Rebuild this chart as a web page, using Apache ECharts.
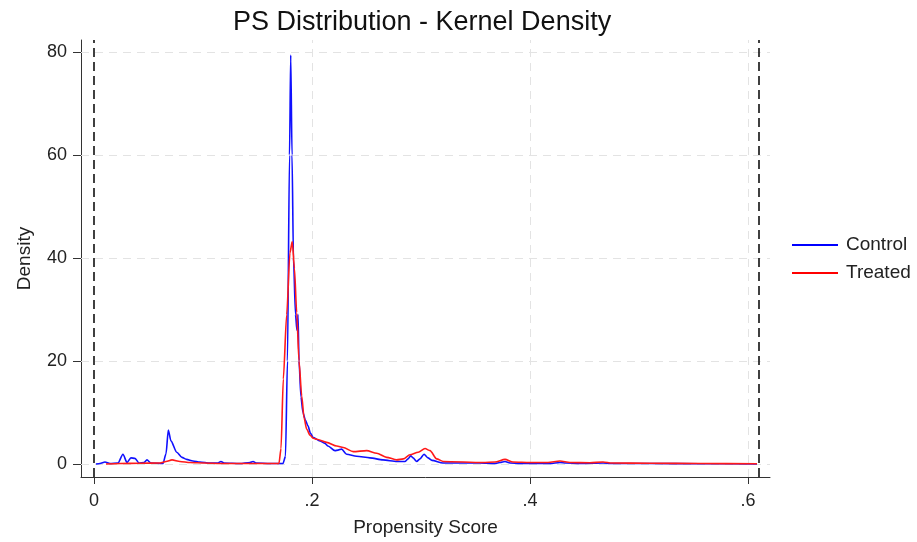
<!DOCTYPE html>
<html>
<head>
<meta charset="utf-8">
<script src="https://cdn.jsdelivr.net/npm/echarts@6/dist/echarts.min.js"></script>
<style>
html,body{margin:0;padding:0;background:#fff;}
#chart{width:917px;height:542px;}
</style>
</head>
<body>
<div id="chart"></div>
<script>
// ---- Data ----
const controlX = [0.0018,0.0055,0.0101,0.0147,0.0220,0.0266,0.0303,0.0339,0.0376,0.0413,0.0459,0.0486,0.0523,0.0633,0.0661,0.0682,0.0706,0.0759,0.0807,0.0850,0.0908,0.0972,0.1064,0.1138,0.1165,0.1193,0.1339,0.1431,0.1459,0.1486,0.1615,0.1734,0.1757,0.1775,0.1794,0.1805,0.1817,0.1830,0.1849,0.1862,0.1872,0.1881,0.1899,0.1917,0.1940,0.1963,0.1986,0.2009,0.2073,0.2119,0.2147,0.2211,0.2239,0.2272,0.2318,0.2410,0.2532,0.2651,0.2780,0.2853,0.2881,0.2906,0.2927,0.2961,0.2991,0.3028,0.3064,0.3101,0.3202,0.3358,0.3541,0.3679,0.3725,0.3771,0.3817,0.3908,0.4183,0.4275,0.4330,0.4459,0.4670,0.4734,0.5101,0.5560,0.6083];
const controlY = [0,0.1,0.4,0.1,0.2,1.9,0.3,1.2,1.1,0.2,0.3,0.8,0.2,0.1,2.0,6.6,4.5,2.3,1.3,0.9,0.6,0.4,0.2,0.2,0.5,0.2,0.1,0.3,0.5,0.2,0.1,0.1,1.5,20,60,79.4,60,40,29,26,29,20,13,10,8.5,7.4,6,5.2,4.5,4,3.5,2.6,2.7,2.9,1.9,1.5,1.2,0.8,0.5,0.5,1.0,1.6,1.2,0.5,1.0,1.9,1.2,0.7,0.2,0.2,0.2,0.1,0.3,0.5,0.2,0.1,0.1,0.3,0.2,0.1,0.2,0.1,0.1,0.05,0.02];
const treatedX = [0.0110,0.0239,0.0422,0.0606,0.0661,0.0716,0.0789,0.0881,0.1018,0.1156,0.1431,0.1615,0.1697,0.1716,0.1737,0.1768,0.1798,0.1819,0.1839,0.1860,0.1881,0.1906,0.1927,0.1951,0.1982,0.2012,0.2043,0.2135,0.2227,0.2287,0.2379,0.2502,0.2594,0.2685,0.2777,0.2838,0.2899,0.2975,0.3037,0.3083,0.3144,0.3205,0.3569,0.3679,0.3771,0.3844,0.4000,0.4165,0.4275,0.4367,0.4550,0.4670,0.4752,0.5101,0.5560,0.6083];
const treatedY = [0.0,0.1,0.15,0.2,0.5,0.8,0.5,0.3,0.2,0.1,0.1,0.1,0.1,3,16.5,29,41,43.2,38,29.4,20,13.2,9,6.8,5.6,5.0,4.8,4.2,3.5,3.2,2.4,2.6,2.1,1.3,0.8,1.0,1.8,2.3,3.0,2.6,1.0,0.5,0.3,0.4,0.9,0.4,0.3,0.3,0.6,0.3,0.25,0.4,0.2,0.15,0.1,0.05];

const xTickValues = [0, 0.2, 0.4, 0.6];
const xTickLabels = ['0', '.2', '.4', '.6'];
const yTickValues = [0, 20, 40, 60, 80];
const yTickLabels = ['0', '20', '40', '60', '80'];
const psBounds = [0.0009, 0.6094];   // dashed reference lines (min / max PS)

const seriesNames = ['Control', 'Treated'];
const titleText = 'PS Distribution - Kernel Density';
const xAxisName = 'Propensity Score';
const yAxisName = 'Density';

// ---- Chart ----
const FONT = '"Liberation Sans", Arial, Helvetica, sans-serif';
const chart = echarts.init(document.getElementById('chart'), null, {renderer: 'canvas'});

const zip = (xs, ys) => xs.map((x, i) => [x, ys[i]]);
const gridStyle = {color: '#e3e3e3', width: 1, type: [8, 6]};

const option = {
  animation: false,
  backgroundColor: '#ffffff',
  textStyle: {fontFamily: FONT},
  title: {
    text: titleText,
    left: 233, top: 9, padding: 0,
    textStyle: {fontFamily: FONT, fontSize: 27, fontWeight: 'normal', color: '#111'}
  },
  legend: {
    orient: 'vertical',
    left: 787, top: 230,
    data: seriesNames,
    icon: 'rect',
    itemWidth: 46, itemHeight: 2,
    itemGap: 8,
    textStyle: {fontFamily: FONT, fontSize: 19, color: '#222', lineHeight: 20, padding: [0, 0, 0, 3]}
  },
  grid: {left: 81, right: 147, top: 40, bottom: 64, containLabel: false},
  xAxis: {
    type: 'value',
    min: -0.0119, max: 0.6202,
    name: xAxisName,
    nameLocation: 'middle',
    nameGap: 41,
    nameTextStyle: {fontFamily: FONT, fontSize: 19, color: '#222'},
    axisLine: {show: true, onZero: false, lineStyle: {color: '#333', width: 1}},
    axisTick: {show: true, length: 7, customValues: xTickValues, lineStyle: {color: '#333'}},
    axisLabel: {
      customValues: xTickValues,
      formatter: v => xTickLabels[xTickValues.findIndex(t => Math.abs(t - v) < 1e-9)],
      fontFamily: FONT, fontSize: 18, color: '#222', margin: 15
    },
    splitLine: {show: false}
  },
  yAxis: {
    type: 'value',
    min: -2.52, max: 82.33,
    name: yAxisName,
    nameLocation: 'middle',
    nameGap: 47,
    nameTextStyle: {fontFamily: FONT, fontSize: 19, color: '#222'},
    axisLine: {show: true, onZero: false, lineStyle: {color: '#333', width: 1}},
    axisTick: {show: true, length: 8, customValues: yTickValues, lineStyle: {color: '#333'}},
    axisLabel: {
      customValues: yTickValues,
      formatter: v => yTickLabels[yTickValues.findIndex(t => Math.abs(t - v) < 1e-9)],
      fontFamily: FONT, fontSize: 18, color: '#222', margin: 14
    },
    splitLine: {show: false}
  },
  series: [
    {
      name: seriesNames[0],
      type: 'line',
      data: zip(controlX, controlY),
      showSymbol: false,
      smooth: 0.25,
      smoothMonotone: 'x',
      z: 4,
      color: '#0000ff',
      lineStyle: {color: '#1010ff', width: 1.6},
      markLine: {
        silent: true,
        symbol: 'none',
        z: 1,
        label: {show: false},
        lineStyle: gridStyle,
        data: yTickValues.map(v => ({yAxis: v})).concat(xTickValues.slice(1).map(v => ({xAxis: v})))
      }
    },
    {
      name: seriesNames[1],
      type: 'line',
      data: zip(treatedX, treatedY),
      showSymbol: false,
      smooth: 0.25,
      smoothMonotone: 'x',
      z: 5,
      color: '#ff0000',
      lineStyle: {color: '#ff1a1a', width: 1.6},
      markLine: {
        silent: true,
        symbol: 'none',
        z: 6,
        label: {show: false},
        lineStyle: {color: '#111', width: 1.6, type: [9, 5]},
        data: psBounds.map(v => ({xAxis: v}))
      }
    }
  ]
};
chart.setOption(option);
</script>
</body>
</html>
